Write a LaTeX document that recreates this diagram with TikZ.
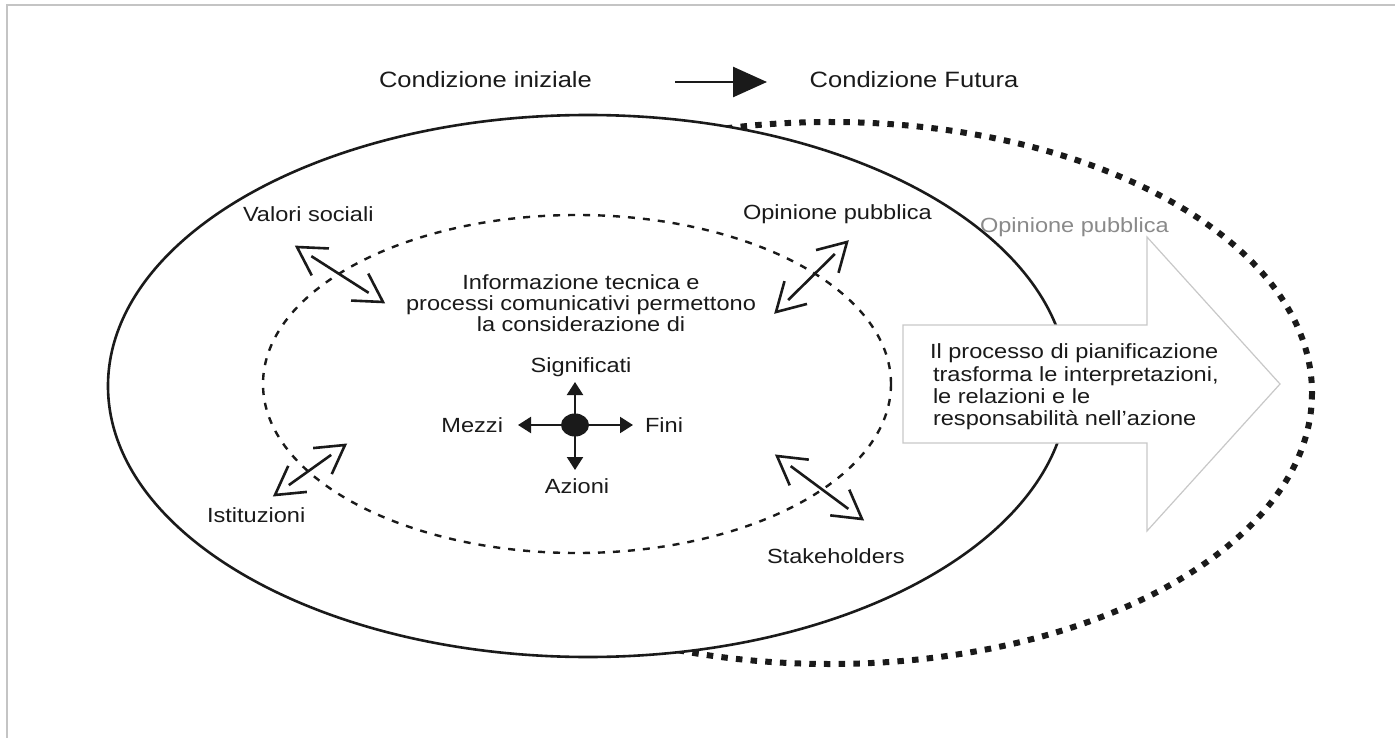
\documentclass[tikz,border=0pt]{standalone}
\usepackage{fontspec}
\setmainfont[FakeStretch=1.15]{Liberation Sans}
\usetikzlibrary{arrows.meta,calc,shapes.geometric}
\definecolor{ink}{HTML}{1A1A1A}
\definecolor{frame}{HTML}{C4C4C4}
\definecolor{arrowline}{HTML}{C8C8C8}
\definecolor{softtext}{HTML}{8A8A8A}
\newcommand\mydblarrow[2]{%
  \draw[dbl] ($(#1)!17pt!(#2)$) -- ($(#2)!17pt!(#1)$);
  \draw[dbl] ($(#1)!32pt!30:(#2)$) -- (#1) -- ($(#1)!32pt!-30:(#2)$);
  \draw[dbl] ($(#2)!32pt!30:(#1)$) -- (#2) -- ($(#2)!32pt!-30:(#1)$);}
\begin{document}
\begin{tikzpicture}[x=1pt,y=-1pt,
  lbl/.style={inner sep=0pt, outer sep=0pt, text=ink, font=\fontsize{20.5}{21}\selectfont},
  biglbl/.style={lbl, font=\fontsize{22.2}{24}\selectfont},
  dbl/.style={draw=ink, line width=2.6pt, line cap=butt, line join=miter},
  comp/.style={draw=ink, line width=2.2pt, -{Triangle[length=13pt,width=16pt]}},
  bigarrow/.style={draw=arrowline, line width=1.2pt, fill=white, line join=miter}]
\useasboundingbox (0,0) rectangle (1395,738);
% frame lines
\draw[frame, line width=1.5pt] (7,738) -- (7,5) -- (1395,5);
% future condition (dotted)
\draw[ink, line width=6pt, dash pattern=on 6.5pt off 8.2pt] (830,393) ellipse [x radius=482, y radius=271];
% initial condition (solid)
\draw[ink, line width=2.6pt, fill=white] (588,386) ellipse [x radius=480, y radius=271];
% inner dashed ellipse
\draw[ink, line width=2.4pt, dash pattern=on 7pt off 8pt] (577,384) ellipse [x radius=314, y radius=169];
% top arrow
\node[biglbl, anchor=base] (ci) at (485.5,88) {Condizione iniziale};
\node[biglbl, anchor=base] (cf) at (914,88) {Condizione Futura};
\coordinate (ca0) at (675,82);
\coordinate (ca1) at (767,82);
\draw[ink, line width=2.6pt, -{Triangle[length=34pt,width=30pt]}] (ca0) -- (ca1);
% double arrows
\coordinate (vsA) at (297,247); \coordinate (vsB) at (383,302);
\coordinate (opA) at (847,242); \coordinate (opB) at (776,312);
\coordinate (isA) at (345,445); \coordinate (isB) at (275,495);
\coordinate (stA) at (777,456); \coordinate (stB) at (862,519);
\mydblarrow{vsA}{vsB}
\mydblarrow{opA}{opB}
\mydblarrow{isA}{isB}
\mydblarrow{stA}{stB}
% labels
\node[lbl, anchor=base west] (vs) at (243,222) {Valori sociali};
\node[lbl, anchor=base west] (op) at (743,220) {Opinione pubblica};
\node[lbl, anchor=base west] (is) at (207,522) {Istituzioni};
\node[lbl, anchor=base west] (st) at (767,563) {Stakeholders};
\node[lbl, anchor=base west, text=softtext] (op2) at (980,233) {Opinione pubblica};
% middle text
\node[lbl, align=center, anchor=north] (info) at (581,275) {Informazione tecnica e\\processi comunicativi permettono\\la considerazione di};
% compass
\node[ellipse, fill=ink, minimum width=28pt, minimum height=23pt, inner sep=0pt] (ctr) at (575,425) {};
\coordinate (cu) at (575,382);
\coordinate (cd) at (575,470);
\coordinate (cl) at (518,425);
\coordinate (cr) at (633,425);
\draw[comp] (ctr.center) -- (cu);
\draw[comp] (ctr.center) -- (cd);
\draw[comp] (ctr.center) -- (cl);
\draw[comp] (ctr.center) -- (cr);
\node[lbl, anchor=base] (sig) at (581,372) {Significati};
\node[lbl, anchor=base] (az) at (577,493) {Azioni};
\node[lbl, anchor=base east] (mz) at (503,432) {Mezzi};
\node[lbl, anchor=base west] (fi) at (645,432) {Fini};
% big arrow
\draw[bigarrow] (903,325) -- (1147,325) -- (1147,237) -- (1280,384) -- (1147,531) -- (1147,443) -- (903,443) -- cycle;
\node[lbl, align=left, anchor=north west, font=\fontsize{20.5}{22.3}\selectfont] (proc) at (930,344) {Il processo di pianificazione\\\hspace*{3pt}trasforma le interpretazioni,\\\hspace*{3pt}le relazioni e le\\\hspace*{3pt}responsabilità nell'azione};
\end{tikzpicture}
\end{document}
